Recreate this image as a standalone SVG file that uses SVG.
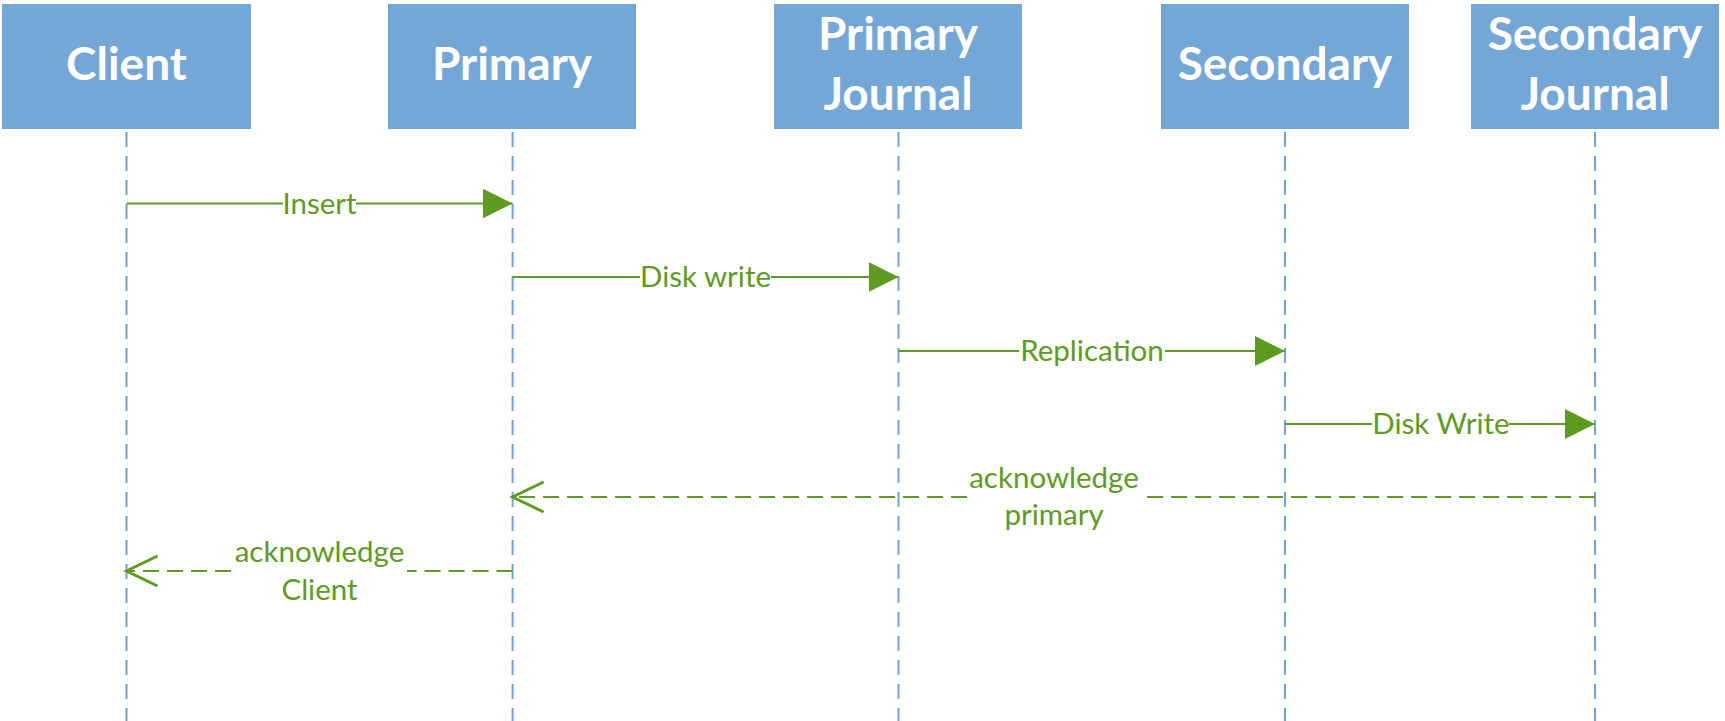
<svg xmlns="http://www.w3.org/2000/svg" width="1725" height="721" viewBox="0 0 1725 721">
<style>
.box{fill:#74a6d6}
.hd{font-family:Lato,"Liberation Sans",sans-serif;font-weight:bold;font-size:46px;fill:#ffffff;text-anchor:middle}
.life{stroke:#6fa3d9;stroke-width:2;stroke-dasharray:15 9;fill:none}
.msg{stroke:#5f9a22;stroke-width:2;fill:none}
.ret{stroke:#5f9a22;stroke-width:2;fill:none;stroke-dasharray:16 8}
.lbl{font-family:Lato,"Liberation Sans",sans-serif;font-size:29.5px;fill:#5f9a22;text-anchor:middle}
</style>
<defs>
<marker id="solidHead" markerUnits="userSpaceOnUse" markerWidth="30" markerHeight="30" viewBox="0 0 30 30" refX="30" refY="15" orient="auto">
<path d="M0,0 L30,15 L0,30 Z" fill="#5f9a22"/>
</marker>
<marker id="openHead" markerUnits="userSpaceOnUse" markerWidth="34" markerHeight="34" viewBox="-2 -2 34 34" refX="31" refY="15" orient="auto" overflow="visible">
<path d="M0,0 L31,15 L0,30" fill="none" stroke="#5f9a22" stroke-width="3"/>
</marker>
</defs>

<g id="client">
<rect class="box" x="2" y="4" width="249" height="125"/>
<text class="hd" x="126.5" y="80">Client</text>
</g>
<g id="primary">
<rect class="box" x="388" y="4" width="248" height="125"/>
<text class="hd" x="512" y="80">Primary</text>
</g>
<g id="primary-journal">
<rect class="box" x="774" y="4" width="248" height="125"/>
<text class="hd" x="898" y="50">Primary</text>
<text class="hd" x="898" y="110">Journal</text>
</g>
<g id="secondary">
<rect class="box" x="1161" y="4" width="248" height="125"/>
<text class="hd" x="1285" y="80">Secondary</text>
</g>
<g id="secondary-journal">
<rect class="box" x="1471" y="4" width="248" height="125"/>
<text class="hd" x="1595" y="50">Secondary</text>
<text class="hd" x="1595" y="110">Journal</text>
</g>

<g id="lifelines">
<line class="life" x1="126.5" y1="132" x2="126.5" y2="721"/>
<line class="life" x1="512.6" y1="132" x2="512.6" y2="721"/>
<line class="life" x1="898.5" y1="132" x2="898.5" y2="721"/>
<line class="life" x1="1285" y1="132" x2="1285" y2="721"/>
<line class="life" x1="1595" y1="132" x2="1595" y2="721"/>
</g>

<g id="connectors">
<path class="msg" d="M126.5,203.5 H283 M356,203.5 H512.6" marker-end="url(#solidHead)"/>
<text class="lbl" x="319.5" y="213.5">Insert</text>

<path class="msg" d="M512.6,277 H640 M771,277 H898.5" marker-end="url(#solidHead)"/>
<text class="lbl" x="705.5" y="287">Disk write</text>

<path class="msg" d="M898.5,351 H1019 M1165,351 H1285" marker-end="url(#solidHead)"/>
<text class="lbl" x="1092" y="361">Replication</text>

<path class="msg" d="M1285,424 H1372 M1509,424 H1595" marker-end="url(#solidHead)"/>
<text class="lbl" x="1441" y="434">Disk Write</text>

<path class="ret" d="M1595,497 H1142 M967,497 H512.6" marker-end="url(#openHead)"/>
<text class="lbl" x="1054" y="487.5">acknowledge</text>
<text class="lbl" x="1054" y="524.5">primary</text>

<path class="ret" d="M512.6,571 H407 M231,571 H126.5" marker-end="url(#openHead)"/>
<text class="lbl" x="319.5" y="561.5">acknowledge</text>
<text class="lbl" x="319.5" y="599.5">Client</text>
</g>
</svg>
